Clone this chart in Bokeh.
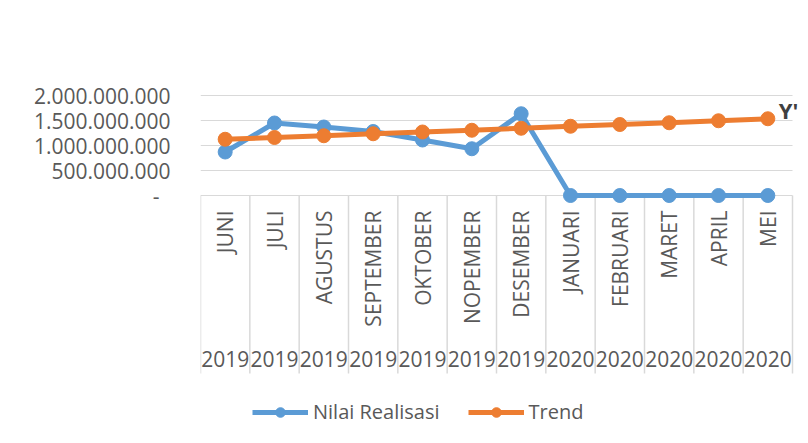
from bokeh.plotting import figure
from bokeh.models import Range1d, FixedTicker, Legend, LegendItem, ColumnDataSource
from bokeh.core.properties import value
from bokeh.embed import file_html
from bokeh.resources import INLINE
import math

# ---- data ----
months = ["JUNI", "JULI", "AGUSTUS", "SEPTEMBER", "OKTOBER", "NOPEMBER",
          "DESEMBER", "JANUARI", "FEBRUARI", "MARET", "APRIL", "MEI"]
years = ["2019", "2019", "2019", "2019", "2019", "2019", "2019",
         "2020", "2020", "2020", "2020", "2020"]
realisasi = [870e6, 1450e6, 1370e6, 1280e6, 1110e6, 935e6, 1635e6, 0, 0, 0, 0, 0]
trend = [1125e6, 1160e6, 1195e6, 1235e6, 1270e6, 1305e6, 1345e6, 1385e6,
         1420e6, 1455e6, 1495e6, 1535e6]
y_ticks = [0, 500e6, 1000e6, 1500e6, 2000e6]
y_tick_labels = ["-\u00a0\u00a0", "500.000.000", "1.000.000.000", "1.500.000.000", "2.000.000.000"]

FONT = "Open Sans"
TXT = "#595959"
GRID = "#d9d9d9"
BLUE = "#5B9BD5"
ORANGE = "#ED7D31"

PX = 20e6  # value units per pixel on the y scale
n = len(months)

W, H = 808, 443
FL, FR, FT = 200, 792, 90           # plot-area left/right/top in canvas px
p = figure(width=W, height=H, output_backend="svg", toolbar_location=None,
           x_axis_location=None,
           x_range=Range1d(0, n * (W - FL) / (FR - FL)),
           y_range=Range1d(-(H - 195) * PX, (195 - FT) * PX),
           min_border_left=FL, min_border_right=0, min_border_top=FT, min_border_bottom=0)
p.outline_line_color = None
p.background_fill_color = "white"
p.border_fill_color = "white"
p.xgrid.visible = False
p.ygrid.visible = False

yax = p.yaxis[0]
yax.ticker = FixedTicker(ticks=y_ticks)
yax.major_label_overrides = {t: l for t, l in zip(y_ticks, y_tick_labels)}
yax.axis_line_color = None
yax.major_tick_line_color = None
yax.minor_tick_line_color = None
yax.major_tick_out = 0
yax.major_tick_in = 0
yax.major_label_standoff = 30
yax.major_label_text_font = FONT
yax.major_label_text_font_size = "21px"
yax.major_label_text_color = TXT

# horizontal gridlines + category axis line
p.segment(x0=0, y0=y_ticks, x1=n, y1=y_ticks, line_color=GRID, line_width=1.2)
# category separators
p.segment(x0=list(range(n + 1)), y0=0, x1=list(range(n + 1)),
          y1=-178 * PX, line_color=GRID, line_width=1.5)

xs = [i + 0.5 for i in range(n)]
src = ColumnDataSource(dict(x=xs, m=months, yr=years, r=realisasi, t=trend))
p.text(x="x", y=-15 * PX, text="m", source=src, angle=math.pi / 2,
       text_align="right", text_baseline="middle", text_font=value(FONT),
       text_font_size="21px", text_color=TXT)
p.text(x="x", y=-163 * PX, text="yr", source=src, text_align="center",
       text_baseline="middle", text_font=value(FONT), text_font_size="21px", text_color=TXT)

bl = p.line("x", "r", source=src, line_color=BLUE, line_width=5)
bs = p.scatter("x", "r", source=src, size=14, fill_color=BLUE, line_color=BLUE)
ol = p.line("x", "t", source=src, line_color=ORANGE, line_width=5)
os_ = p.scatter("x", "t", source=src, size=14, fill_color=ORANGE, line_color=ORANGE)

p.text(x=[xs[-1]], y=[trend[-1]], text=["Y'"], x_offset=11, y_offset=-9,
       text_align="left", text_baseline="middle", text_font=value(FONT),
       text_font_style="bold", text_font_size="22px", text_color="#404040")

legend = Legend(items=[LegendItem(label="Nilai Realisasi", renderers=[bl, bs]),
                       LegendItem(label="Trend", renderers=[ol, os_])],
                orientation="horizontal", location=(52, 18), glyph_width=56,
                glyph_height=24, label_text_font=FONT, label_text_font_size="20px",
                label_text_color=TXT, spacing=28, padding=0, margin=0,
                border_line_color=None, background_fill_alpha=0, label_standoff=5)
p.add_layout(legend)

open("out.html", "w").write(file_html(p, INLINE))
